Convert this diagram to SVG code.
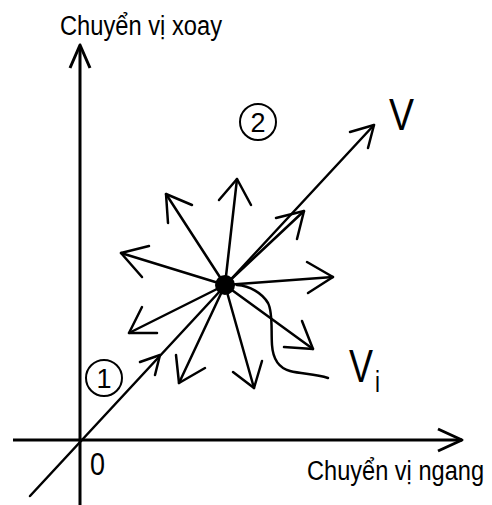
<svg xmlns="http://www.w3.org/2000/svg" width="492" height="505" viewBox="0 0 492 505">
  <style>
    .ln { stroke: #000; stroke-width: 2.5; fill: none; stroke-linecap: round; stroke-linejoin: round; }
    .ax { stroke: #000; stroke-width: 3; fill: none; stroke-linejoin: round; }
    .t { font-family: "Liberation Sans", Arial, sans-serif; fill: #000; }
    .c { stroke: #000; stroke-width: 2; fill: none; }
  </style>
  <rect width="492" height="505" fill="#fff"/>

  <g id="axes">
    <line class="ax" x1="80" y1="46" x2="80" y2="505"/>
    <polyline class="ax" points="70,68 80,45 90,68"/>
    <line class="ax" x1="13" y1="440" x2="462" y2="440"/>
    <polyline class="ax" points="438,429 462,440 438,451"/>
  </g>

  <g id="labels">
    <text class="t" x="60" y="35" font-size="27" textLength="162" lengthAdjust="spacingAndGlyphs">Chuyển vị xoay</text>
    <text class="t" x="307" y="480" font-size="27" textLength="177" lengthAdjust="spacingAndGlyphs">Chuyển vị ngang</text>
    <text class="t" x="90" y="475" font-size="31" textLength="15" lengthAdjust="spacingAndGlyphs">0</text>
    <text class="t" x="389" y="130" font-size="45" textLength="25" lengthAdjust="spacingAndGlyphs">V</text>
    <text class="t" x="349" y="382" font-size="46" textLength="24" lengthAdjust="spacingAndGlyphs">V</text>
    <text class="t" x="375" y="392" font-size="29" textLength="5" lengthAdjust="spacingAndGlyphs">i</text>
  </g>

  <g id="node-1">
    <circle class="c" cx="104" cy="378" r="18"/>
    <text class="t" x="104" y="388" font-size="27" text-anchor="middle">1</text>
  </g>
  <g id="node-2">
    <circle class="c" cx="258" cy="122" r="18"/>
    <text class="t" x="258" y="132" font-size="27" text-anchor="middle">2</text>
  </g>

  <g id="connectors">
    <line class="ln" x1="30" y1="496" x2="374" y2="125"/>
    <polyline class="ln" points="350,132 374,125 368,148"/>
    <polyline class="ln" points="140,362 160,355 155,375"/>

    <line class="ln" x1="225" y1="285" x2="237" y2="179"/>
    <polyline class="ln" points="219,200 237,179 251,205"/>

    <line class="ln" x1="225" y1="285" x2="166" y2="194"/>
    <polyline class="ln" points="168,223 166,194 192,205"/>

    <line class="ln" x1="225" y1="285" x2="121" y2="253"/>
    <polyline class="ln" points="149,246 121,253 142,277"/>

    <line class="ln" x1="225" y1="285" x2="129" y2="333"/>
    <polyline class="ln" points="142,307 129,333 157,333"/>

    <line class="ln" x1="225" y1="285" x2="179" y2="383"/>
    <polyline class="ln" points="176,355 179,383 205,368"/>

    <line class="ln" x1="225" y1="285" x2="254" y2="388"/>
    <polyline class="ln" points="233,372 254,388 262,361"/>

    <line class="ln" x1="225" y1="285" x2="313" y2="349"/>
    <polyline class="ln" points="284,347 313,349 302,321"/>

    <line class="ln" x1="225" y1="285" x2="333" y2="277"/>
    <polyline class="ln" points="307,262 333,277 308,293"/>

    <line class="ln" x1="225" y1="285" x2="304" y2="211"/>
    <polyline class="ln" points="276,218 304,211 297,239"/>

    <path class="ln" d="M237,285 C250,286 262,293 268,303 C273,312 271,330 272,345 C273,360 279,368 290,371 C302,374 315,374 328,378"/>
  </g>

  <g id="center">
    <circle cx="225" cy="285" r="10" fill="#000"/>
  </g>
</svg>
